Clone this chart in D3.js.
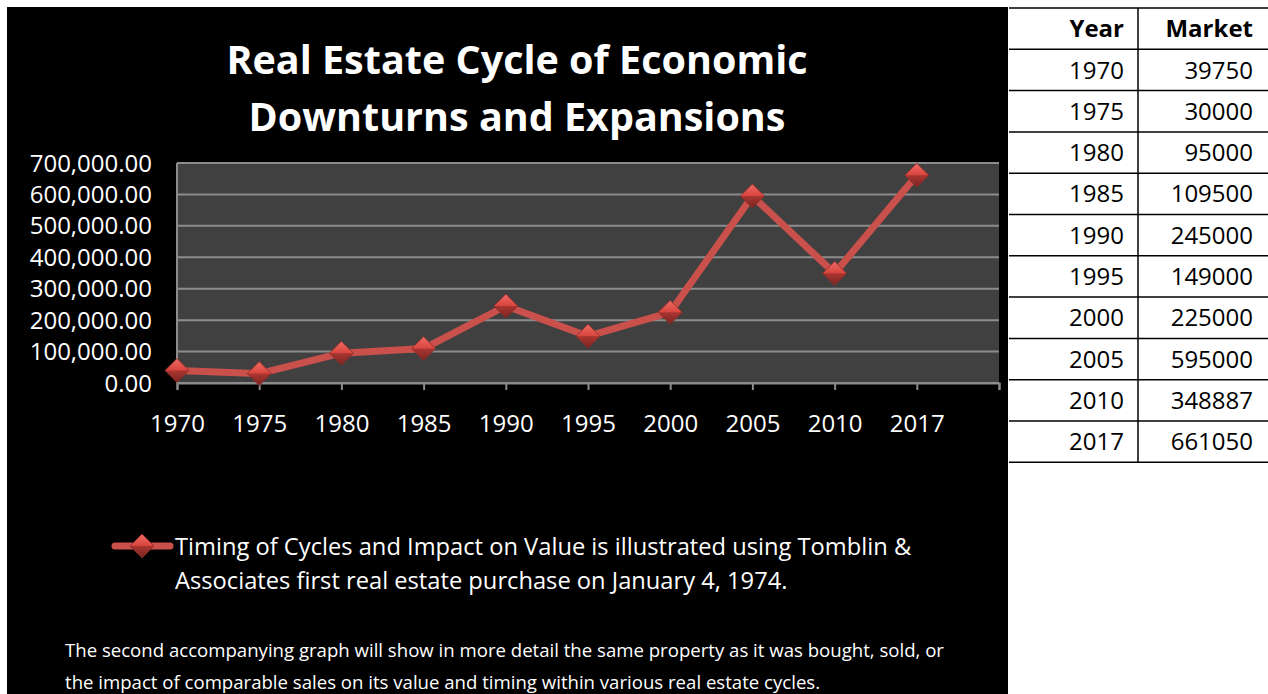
<!DOCTYPE html>
<html lang="en">
<head>
<meta charset="utf-8">
<script src="https://cdn.jsdelivr.net/npm/d3@7/dist/d3.min.js"></script>
<style type="text/css">
body {
	margin: 0;
	background: #fff;
	font-family: "Open Sans", sans-serif;
}
</style>
</head>
<body>
<script type="text/javascript">

// chart data
var years = ["1970", "1975", "1980", "1985", "1990", "1995", "2000", "2005", "2010", "2017"];
var market = [39750, 30000, 95000, 109500, 245000, 149000, 225000, 595000, 348887, 661050];
var yTicks = [0, 100000, 200000, 300000, 400000, 500000, 600000, 700000];
var titleLines = ["Real Estate Cycle of Economic", "Downturns and Expansions"];
var legendLines = ["Timing of Cycles and Impact on Value is illustrated using Tomblin &",
				   "Associates first real estate purchase on January 4, 1974."];
var noteLines = ["The second accompanying graph will show in more detail the same property as it was bought, sold, or",
				 "the impact of comparable sales on its value and timing within various real estate cycles."];
var tableHead = ["Year", "Market"];

var width = 1268;
var height = 694;

var svg = d3.select("body")
			.append("svg")
			.attr("width", width)
			.attr("height", height);

// gradient for the diamond markers
var defs = svg.append("defs");
var grad = defs.append("linearGradient")
			   .attr("id", "mgrad")
			   .attr("x1", 0).attr("y1", 0).attr("x2", 0).attr("y2", 1);
grad.append("stop").attr("offset", "0%").attr("stop-color", "#f06a64");
grad.append("stop").attr("offset", "48%").attr("stop-color", "#d9463f");
grad.append("stop").attr("offset", "52%").attr("stop-color", "#a83530");
grad.append("stop").attr("offset", "100%").attr("stop-color", "#7a2522");

// black chart panel
svg.append("rect")
	.attr("x", 7).attr("y", 7)
	.attr("width", 1001).attr("height", 687)
	.style("fill", "#000");

// title
svg.append("g").selectAll("text")
	.data(titleLines)
	.enter()
	.append("text")
	.attr("x", 517)
	.attr("y", function(d, i) { return 74 + i * 57; })
	.attr("text-anchor", "middle")
	.style("fill", "#fff")
	.style("font-size", "39.5px")
	.style("font-weight", "bold")
	.text(function(d) { return d; });

// scales
var plotL = 177, plotR = 999, plotT = 163, plotB = 383;
var x = d3.scaleLinear().domain([0, years.length]).range([plotL, plotR]);
var y = d3.scaleLinear().domain([0, 700000]).range([plotB, plotT]);

// plot area
svg.append("rect")
	.attr("x", plotL).attr("y", plotT)
	.attr("width", plotR - plotL).attr("height", plotB - plotT)
	.style("fill", "#404040");

// gridlines
svg.append("g").selectAll("line")
	.data(yTicks)
	.enter()
	.append("line")
	.attr("x1", plotL).attr("x2", plotR)
	.attr("y1", function(d) { return y(d); })
	.attr("y2", function(d) { return y(d); })
	.style("stroke", "#8c8c8c")
	.style("stroke-width", 2);

// left border
svg.append("line")
	.attr("x1", plotL).attr("x2", plotL)
	.attr("y1", plotT).attr("y2", plotB)
	.style("stroke", "#8c8c8c")
	.style("stroke-width", 2);

// y axis labels
var fmt = d3.format(",.2f");
svg.append("g").selectAll("text")
	.data(yTicks)
	.enter()
	.append("text")
	.attr("x", 152)
	.attr("y", function(d) { return y(d); })
	.attr("dy", "0.36em")
	.attr("text-anchor", "end")
	.style("fill", "#fff")
	.style("font-size", "24px")
	.text(function(d) { return fmt(d); });

// x axis
var xAxis = d3.axisBottom(x)
			  .tickValues(d3.range(years.length + 1))
			  .tickSize(7)
			  .tickFormat(function(i) { return i < years.length ? years[i] : ""; });
var gx = svg.append("g")
			.attr("transform", "translate(0," + plotB + ")")
			.call(xAxis);
gx.select(".domain").style("stroke", "#8c8c8c").style("stroke-width", 2);
gx.selectAll(".tick line").style("stroke", "#8c8c8c").style("stroke-width", 2);
gx.selectAll(".tick text")
	.attr("y", 32)
	.style("fill", "#fff")
	.style("font-size", "24px")
	.style("font-family", "'Open Sans', sans-serif");

// line
var line = d3.line()
			 .x(function(d, i) { return x(i); })
			 .y(function(d) { return y(d); });
svg.append("path")
	.datum(market)
	.attr("d", line)
	.style("fill", "none")
	.style("stroke", "#c9504b")
	.style("stroke-width", 7)
	.style("stroke-linejoin", "round");

// markers
function diamond(g, r) {
	g.append("path")
	 .attr("d", "M0," + (-r) + "L" + r + ",0L0," + r + "L" + (-r) + ",0Z")
	 .style("fill", "url(#mgrad)")
	 .style("stroke", "#8a2a27")
	 .style("stroke-width", 0.8);
}
svg.append("g").selectAll("g")
	.data(market)
	.enter()
	.append("g")
	.attr("transform", function(d, i) { return "translate(" + x(i) + "," + y(d) + ")"; })
	.each(function() { diamond(d3.select(this), 12); });

// legend
var leg = svg.append("g");
leg.append("line")
	.attr("x1", 115).attr("x2", 170)
	.attr("y1", 546).attr("y2", 546)
	.style("stroke", "#c9504b")
	.style("stroke-width", 7)
	.style("stroke-linecap", "round");
diamond(leg.append("g").attr("transform", "translate(142,546)"), 12);
leg.selectAll("text")
	.data(legendLines)
	.enter()
	.append("text")
	.attr("x", 175)
	.attr("y", function(d, i) { return 555 + i * 34; })
	.style("fill", "#fff")
	.style("font-size", "23.7px")
	.text(function(d) { return d; });

// footnote
svg.append("g").selectAll("text")
	.data(noteLines)
	.enter()
	.append("text")
	.attr("x", 65)
	.attr("y", function(d, i) { return 657 + i * 32; })
	.style("fill", "#fff")
	.style("font-size", "18.6px")
	.text(function(d) { return d; });

// data table on the right
var tbl = svg.append("g");
var rowH = 41.3, tTop = 8, colL = 1009, colM = 1138, colR = 1268;
var rows = [tableHead].concat(years.map(function(d, i) { return [d, String(market[i])]; }));

tbl.selectAll(".hline")
	.data(d3.range(rows.length + 1))
	.enter()
	.append("line")
	.attr("x1", colL).attr("x2", colR)
	.attr("y1", function(d) { return tTop + d * rowH; })
	.attr("y2", function(d) { return tTop + d * rowH; })
	.style("stroke", "#000")
	.style("stroke-width", 1.5);
tbl.append("line")
	.attr("x1", colM).attr("x2", colM)
	.attr("y1", tTop).attr("y2", tTop + rows.length * rowH)
	.style("stroke", "#000")
	.style("stroke-width", 1.5);

rows.forEach(function(r, i) {
	tbl.append("text")
		.attr("x", 1124)
		.attr("y", tTop + i * rowH + rowH / 2)
		.attr("dy", "0.36em")
		.attr("text-anchor", "end")
		.style("font-size", "24px")
		.style("font-weight", i === 0 ? "bold" : "normal")
		.style("fill", "#000")
		.text(r[0]);
	tbl.append("text")
		.attr("x", 1253)
		.attr("y", tTop + i * rowH + rowH / 2)
		.attr("dy", "0.36em")
		.attr("text-anchor", "end")
		.style("font-size", "24px")
		.style("font-weight", i === 0 ? "bold" : "normal")
		.style("fill", "#000")
		.text(r[1]);
});

</script>
</body>
</html>
